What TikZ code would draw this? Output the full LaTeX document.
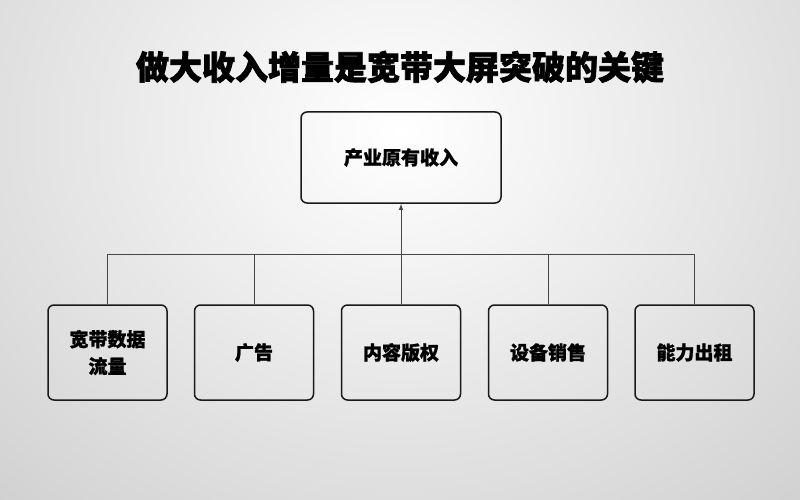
\documentclass[tikz,border=0pt]{standalone}
\usepackage{fontspec}
\newfontfamily\cjk[BoldFeatures={FakeBold=1.2}]{Noto Sans CJK SC}
\newfontfamily\cjktitle[BoldFeatures={FakeBold=2.2}]{Noto Sans CJK SC}
\usetikzlibrary{arrows.meta}
\definecolor{edgegrey}{RGB}{168,168,168}
\definecolor{boxline}{RGB}{25,25,25}
\definecolor{linkline}{RGB}{70,70,70}
\tikzset{
  itembox/.style={draw=boxline, line width=1.5pt, rounded corners=6pt,
    minimum width=119pt, minimum height=95pt, align=center,
    font=\cjk\bfseries\fontsize{19pt}{27pt}\selectfont, text=black, inner sep=0pt},
  topbox/.style={itembox, minimum width=200pt, minimum height=91pt},
  link/.style={draw=linkline, line width=0.9pt},
}
\begin{document}
\begin{tikzpicture}[x=1pt,y=-1pt]
\useasboundingbox (0,0) rectangle (800,500);
\begin{scope}
\clip (0,0) rectangle (800,500);
\shade[inner color=white, outer color=edgegrey] (-720,-830) rectangle (1520,1090);
\end{scope}
\node[font=\cjktitle\bfseries\fontsize{33pt}{38pt}\selectfont, text=black] (title) at (400,67) {做大收入增量是宽带大屏突破的关键};
\node[topbox] (top) at (401,157.5) {产业原有收入};
\node[itembox] (b1) at (107.5,352.5) {宽带数据\\流量};
\node[itembox] (b2) at (254,352.5) {广告};
\node[itembox] (b3) at (401,352.5) {内容版权};
\node[itembox] (b4) at (548,352.5) {设备销售};
\node[itembox] (b5) at (694.5,352.5) {能力出租};
\coordinate (hub) at (401,254);
\coordinate (h1) at (107.5,254);
\coordinate (h2) at (254,254);
\coordinate (h4) at (548,254);
\coordinate (h5) at (694.5,254);
\draw[link] (b1.north) -- (h1) -- (h5) -- (b5.north);
\draw[link] (b2.north) -- (h2);
\draw[link] (b4.north) -- (h4);
\draw[link] (b3.north) -- (hub);
\draw[link, -{Latex[length=6pt,width=4.5pt]}] (hub) -- (top.south);
\end{tikzpicture}
\end{document}
